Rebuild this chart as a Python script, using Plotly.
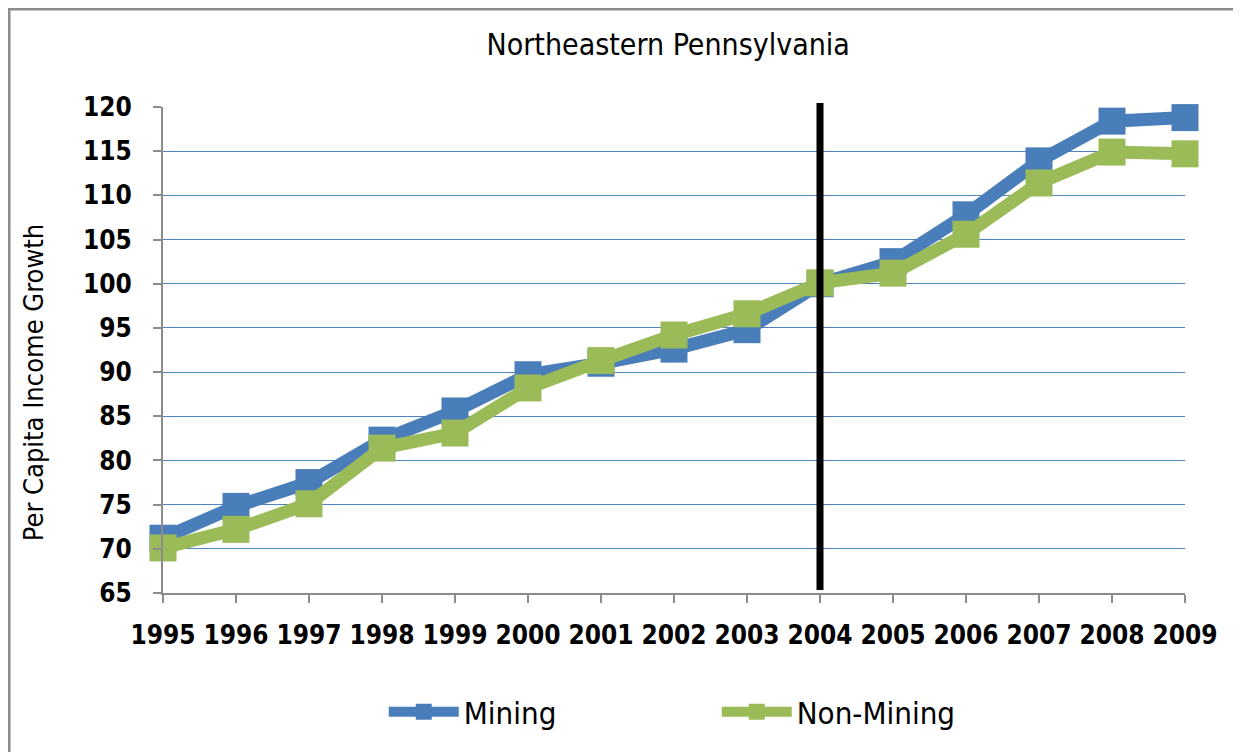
import plotly.graph_objects as go

years = list(range(1995, 2010))
mining = [71.2, 74.8, 77.5, 82.3, 85.6, 89.7, 91.0, 92.6, 94.8, 100.0,
          102.5, 107.8, 113.9, 118.4, 118.8]
non_mining = [70.1, 72.2, 75.1, 81.4, 83.1, 88.2, 91.3, 94.2, 96.6, 100.1,
              101.2, 105.6, 111.4, 114.9, 114.7]
break_year = 2004
y_ticks = list(range(65, 121, 5))

font_main = "Liberation Sans Narrow, Arial Narrow, DejaVu Sans Condensed, sans-serif"

fig = go.Figure()

# 系列
fig.add_trace(go.Scatter(
    x=years, y=mining, name="Mining", mode="lines+markers",
    line=dict(color="#4a7ebb", width=13),
    marker=dict(symbol="square", size=27, color="#4a7ebb"),
    cliponaxis=False,
))
fig.add_trace(go.Scatter(
    x=years, y=non_mining, name="Non-Mining", mode="lines+markers",
    line=dict(color="#9bbb59", width=13),
    marker=dict(symbol="square", size=27, color="#9bbb59"),
    cliponaxis=False,
))

# 2004年の区切り線
fig.add_shape(type="line", x0=break_year, x1=break_year, xref="x",
              y0=0.006, y1=1.008, yref="paper",
              line=dict(color="black", width=7))

# 外枠
fig.add_shape(type="rect", xref="paper", yref="paper",
              x0=-0.1507, x1=1.049, y0=-0.36, y1=1.2016,
              line=dict(color="#8c8c8c", width=3))

# 縦軸タイトル（少し下寄せ）
fig.add_annotation(text="Per Capita Income Growth", xref="paper", yref="paper",
                   x=-0.127, y=0.432, xanchor="center", yanchor="middle",
                   textangle=-90, showarrow=False,
                   font=dict(family=font_main, size=27, color="black"))

fig.update_layout(
    width=1241, height=752,
    margin=dict(l=155, r=64, t=99, b=167),
    paper_bgcolor="white", plot_bgcolor="white",
    title=dict(text="Northeastern Pennsylvania", x=0.532, xanchor="center",
               y=0.951, yanchor="middle",
               font=dict(family=font_main, size=30, color="black")),
    showlegend=True,
    legend=dict(orientation="h", x=0.216, xanchor="left", y=-0.245, yanchor="middle",
                font=dict(family=font_main, size=31, color="black"),
                itemwidth=70, tracegroupgap=0, entrywidth=248),
    xaxis=dict(
        range=[1995, 2009], tickmode="array", tickvals=years,
        ticktext=[str(y) for y in years],
        showgrid=False, zeroline=False,
        showline=True, linecolor="#8c8c8c", linewidth=2,
        ticks="outside", ticklen=8, tickcolor="#8c8c8c", tickwidth=2,
        ticklabelstandoff=10,
        tickfont=dict(family=font_main, size=26, color="black", weight="bold"),
    ),
    yaxis=dict(
        range=[65, 120], tickmode="array", tickvals=y_ticks,
        showgrid=True, gridcolor="#4f81bd", gridwidth=1,
        zeroline=False,
        showline=True, linecolor="#8c8c8c", linewidth=2,
        ticks="outside", ticklen=8, tickcolor="#8c8c8c", tickwidth=2,
        ticklabelstandoff=16,
        tickfont=dict(family=font_main, size=26, color="black", weight="bold"),
    ),
)

fig.write_html("out.html")
